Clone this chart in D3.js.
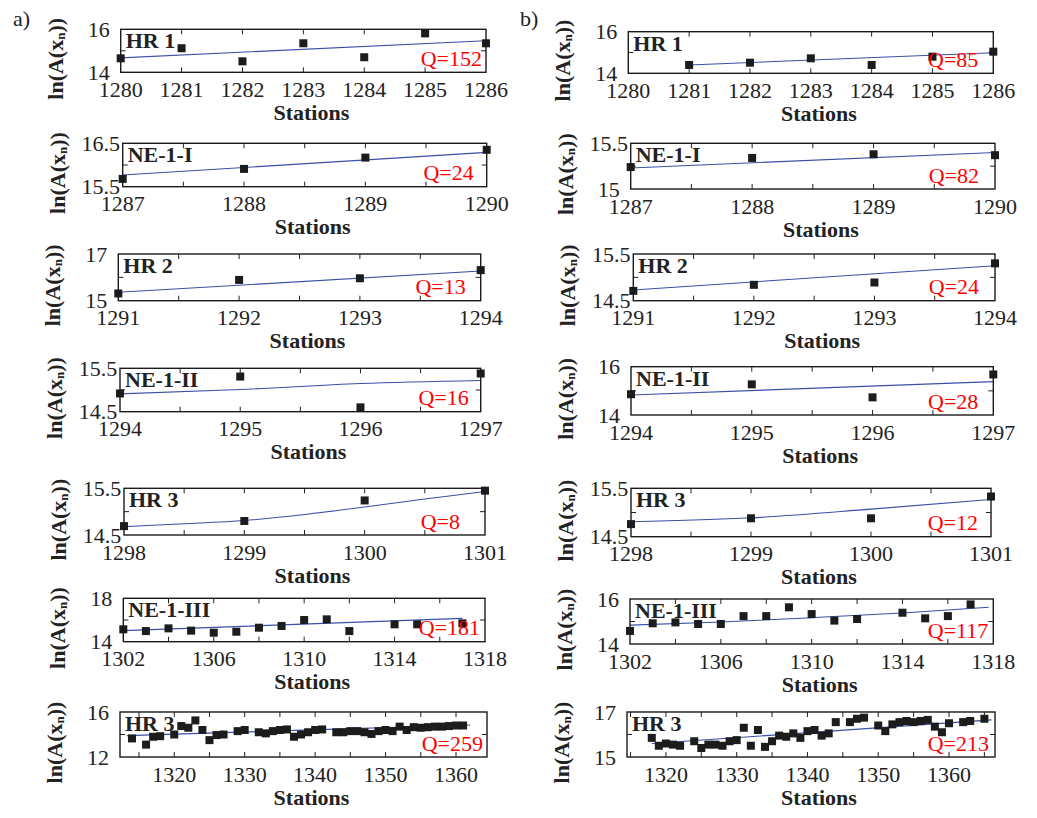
<!DOCTYPE html>
<html><head><meta charset="utf-8">
<script src="https://cdn.jsdelivr.net/npm/d3@7"></script>
<style>body{margin:0;background:#fff}svg{display:block} text{font-family:"Liberation Serif","Times New Roman",Times,"DejaVu Serif",serif;}</style>
</head><body>
<svg id="c" width="1037" height="818"></svg>
<script>
// ---------- data ----------
// column a)
const hr1aStations = [1280,1281,1282,1283,1284,1285,1286];
const hr1aValues   = [14.65,15.12,14.51,15.35,14.70,15.81,15.35];
const hr1aFitX = [1280,1286], hr1aFitY = [14.67,15.47];

const ne1aStations = [1287,1288,1289,1290];
const ne1aValues   = [15.68,15.91,16.17,16.35];
const ne1aFitX = [1287,1290], ne1aFitY = [15.77,16.29];

const hr2aStations = [1291,1292,1293,1294];
const hr2aValues   = [15.31,15.89,15.96,16.31];
const hr2aFitX = [1291,1294], hr2aFitY = [15.36,16.27];

const ne2aStations = [1294,1295,1296,1297];
const ne2aValues   = [14.92,15.31,14.60,15.38];
const ne2aFitX = [1294,1295,1296,1297], ne2aFitY = [14.91,15.01,15.15,15.22];

const hr3aStations = [1298,1299,1300,1301];
const hr3aValues   = [14.69,14.80,15.24,15.45];
const hr3aFitX = [1298,1298.5,1299,1299.5,1300,1300.5,1301], hr3aFitY = [14.68,14.74,14.81,14.94,15.10,15.27,15.43];

const ne3aStations = [1302,1303,1304,1305,1306,1307,1308,1309,1310,1311,1312,1314,1315,1317];
const ne3aValues   = [15.14,14.98,15.23,15.02,14.83,14.92,15.29,15.45,16.00,16.06,14.98,15.60,15.60,15.69];
const ne3aFitX = [1302,1317], ne3aFitY = [15.02,16.15];

const hr3bigaStations = [1314,1316,1317,1318,1320,1321,1322,1323,1324,1325,1326,1327,1329,1330,1332,1333,1334,1335,1336,1337,1338,1339,1340,1341,1343,1344,1345,1346,1347,1348,1349,1350,1351,1352,1353,1354,1355,1356,1357,1358,1359,1360,1361];
const hr3bigaValues   = [13.65,13.1,13.8,13.85,14.0,14.75,14.6,15.25,14.4,13.5,13.95,14.0,14.3,14.4,14.2,14.1,14.3,14.4,14.45,13.8,14.0,14.2,14.4,14.45,14.2,14.2,14.3,14.3,14.2,14.05,14.3,14.4,14.3,14.7,14.4,14.65,14.6,14.65,14.7,14.7,14.75,14.8,14.8];
const hr3bigaFitX = [1313.3,1362], hr3bigaFitY = [13.9,14.85];

// column b)
const hr1bStations = [1281,1282,1283,1284,1285,1286];
const hr1bValues   = [14.40,14.51,14.72,14.40,14.80,15.04];
const hr1bFitX = [1281,1286], hr1bFitY = [14.40,14.99];

const ne1bStations = [1287,1288,1289,1290];
const ne1bValues   = [15.24,15.34,15.38,15.37];
const ne1bFitX = [1287,1290], ne1bFitY = [15.23,15.40];

const hr2bStations = [1291,1292,1293,1294];
const hr2bValues   = [14.71,14.84,14.89,15.30];
const hr2bFitX = [1291,1294], hr2bFitY = [14.73,15.25];

const ne2bStations = [1294,1295,1296,1297];
const ne2bValues   = [14.86,15.27,14.73,15.68];
const ne2bFitX = [1294,1297], ne2bFitY = [14.83,15.38];

const hr3bStations = [1298,1299,1300,1301];
const hr3bValues   = [14.76,14.88,14.88,15.33];
const hr3bFitX = [1298,1299,1300,1301], hr3bFitY = [14.81,14.89,15.07,15.27];

const ne3bStations = [1302,1303,1304,1305,1306,1307,1308,1309,1310,1311,1312,1314,1315,1316,1317];
const ne3bValues   = [14.58,14.92,14.96,14.89,14.89,15.24,15.24,15.63,15.33,15.04,15.11,15.39,15.14,15.24,15.76];
const ne3bFitX = [1302,1306,1310,1314,1317.8], ne3bFitY = [14.84,14.98,15.17,15.38,15.63];

const hr3bigbStations = [1318,1319,1320,1321,1322,1324,1325,1326,1327,1328,1329,1330,1331,1332,1333,1334,1335,1336,1337,1338,1339,1340,1341,1342,1343,1344,1346,1347,1348,1350,1351,1352,1353,1354,1355,1356,1357,1358,1359,1360,1362,1363,1365];
const hr3bigbValues   = [15.85,15.5,15.6,15.55,15.5,15.7,15.4,15.55,15.55,15.5,15.7,15.75,16.3,15.5,16.2,15.45,15.7,15.95,15.9,16.05,15.85,16.15,16.2,15.95,16.05,16.55,16.55,16.7,16.75,16.4,16.15,16.45,16.55,16.6,16.55,16.6,16.65,16.35,16.1,16.5,16.55,16.6,16.7];
const hr3bigbFitX = [1318,1366], hr3bigbFitY = [15.6,16.65];

// labels
const panelNames = ["HR 1","NE-1-I","HR 2","NE-1-II","HR 3","NE-1-III","HR 3"];
const qLabelsA = ["Q=152","Q=24","Q=13","Q=16","Q=8","Q=181","Q=259"];
const qLabelsB = ["Q=85","Q=82","Q=24","Q=28","Q=12","Q=117","Q=213"];
const xTickLabels = [
  [1280,1281,1282,1283,1284,1285,1286],
  [1287,1288,1289,1290],
  [1291,1292,1293,1294],
  [1294,1295,1296,1297],
  [1298,1299,1300,1301],
  [1302,1306,1310,1314,1318],
  [1320,1330,1340,1350,1360]
];
const yTickLabelsA = [[14,16],[15.5,16.5],[15,17],[14.5,15.5],[14.5,15.5],[14,18],[12,16]];
const yTickLabelsB = [[14,16],[15,15.5],[14.5,15.5],[14,16],[14.5,15.5],[14,16],[15,17]];
const xMinorStep = [1,0.5,0.5,0.5,0.5,2,5];

// ---------- layout ----------
const boxesA = [[120.7,486,29.3,72.3],[122.7,486.7,143.3,186.7],[118.3,480.7,254,300.7],[120,480.7,368.3,411.7],[124,485,488.3,535],[123.3,485,598.3,641.7],[120,487,712,757]];
const boxesB = [[628.3,993.3,31.7,73.3],[630.7,995,143.3,189],[633.3,995,254,300.7],[631,993.3,366.7,415],[631,991,488.3,536.7],[630,993.3,599,644],[627,995,712,757]];
const qDxA = [4,13,15,12,25,5,4], qDxB = [15,16,16,15,13,5,6];
const xDomainsA = [[1280,1286],[1287,1290],[1291,1294],[1294,1297],[1298,1301],[1302,1318],[1312.3,1364.4]];
const xDomainsB = [[1280,1286],[1287,1290],[1291,1294],[1294,1297],[1298,1301],[1302,1318],[1314.5,1366.5]];

const seriesA = [
  [hr1aStations,hr1aValues,hr1aFitX,hr1aFitY],
  [ne1aStations,ne1aValues,ne1aFitX,ne1aFitY],
  [hr2aStations,hr2aValues,hr2aFitX,hr2aFitY],
  [ne2aStations,ne2aValues,ne2aFitX,ne2aFitY],
  [hr3aStations,hr3aValues,hr3aFitX,hr3aFitY],
  [ne3aStations,ne3aValues,ne3aFitX,ne3aFitY],
  [hr3bigaStations,hr3bigaValues,hr3bigaFitX,hr3bigaFitY]
];
const seriesB = [
  [hr1bStations,hr1bValues,hr1bFitX,hr1bFitY],
  [ne1bStations,ne1bValues,ne1bFitX,ne1bFitY],
  [hr2bStations,hr2bValues,hr2bFitX,hr2bFitY],
  [ne2bStations,ne2bValues,ne2bFitX,ne2bFitY],
  [hr3bStations,hr3bValues,hr3bFitX,hr3bFitY],
  [ne3bStations,ne3bValues,ne3bFitX,ne3bFitY],
  [hr3bigbStations,hr3bigbValues,hr3bigbFitX,hr3bigbFitY]
];

const svg = d3.select("#c");
svg.append("rect").attr("width",1037).attr("height",818).attr("fill","#fff");

function drawPanel(box, xDom, yDom, xLabels, yLabels, minorStep, ser, name, q, qdx) {
  const [x0,x1,y0,y1] = box;
  const x = d3.scaleLinear().domain(xDom).range([x0,x1]);
  const y = d3.scaleLinear().domain(yDom).range([y1,y0]);
  const g = svg.append("g");

  // inward ticks
  const xt = d3.range(Math.ceil(xDom[0]/minorStep)*minorStep, xDom[1]+1e-9, minorStep).filter(v=>x(v)>x0+1 && x(v)<x1-1);
  g.selectAll(".xtb").data(xt).join("line")
    .attr("x1",d=>x(d)).attr("x2",d=>x(d)).attr("y1",y1).attr("y2",y1-5)
    .attr("stroke","#222").attr("stroke-width",1);
  g.selectAll(".xtt").data(xt).join("line")
    .attr("x1",d=>x(d)).attr("x2",d=>x(d)).attr("y1",y0).attr("y2",y0+5)
    .attr("stroke","#222").attr("stroke-width",1);
  const ym = [(yDom[0]+yDom[1])/2];
  g.selectAll(".ytl").data(ym).join("line")
    .attr("x1",x0).attr("x2",x0+5).attr("y1",d=>y(d)).attr("y2",d=>y(d))
    .attr("stroke","#222").attr("stroke-width",1);
  g.selectAll(".ytr").data(ym).join("line")
    .attr("x1",x1).attr("x2",x1-5).attr("y1",d=>y(d)).attr("y2",d=>y(d))
    .attr("stroke","#222").attr("stroke-width",1);

  // fit line
  const [st, val, fx, fy] = ser;
  const line = d3.line().x(d=>x(d[0])).y(d=>y(d[1])).curve(d3.curveMonotoneX);
  g.append("path").datum(d3.zip(fx,fy)).attr("d",line)
    .attr("fill","none").attr("stroke","#3b4fa6").attr("stroke-width",1.1);

  // points
  const s = 8;
  g.selectAll(".pt").data(d3.zip(st,val)).join("rect")
    .attr("x",d=>x(d[0])-s/2).attr("y",d=>y(d[1])-s/2)
    .attr("width",s).attr("height",s).attr("fill","#1c1c1c");

  // box
  g.append("rect").attr("x",x0).attr("y",y0).attr("width",x1-x0).attr("height",y1-y0)
    .attr("fill","none").attr("stroke","#1a1a1a").attr("stroke-width",1.4);

  // tick labels
  g.selectAll(".xl").data(xLabels).join("text")
    .attr("x",d=>x(d)).attr("y",y1+17).attr("dominant-baseline","central")
    .attr("text-anchor","middle").attr("font-size",22)
    .attr("fill","#222").text(d=>d);
  g.selectAll(".yl").data(yLabels).join("text")
    .attr("x",x0-22).attr("y",d=>y(d)).attr("dominant-baseline","central")
    .attr("text-anchor","middle").attr("font-size",22)
    .attr("fill","#222").text(d=>d);

  // axis titles
  g.append("text").attr("x",(x0+x1)/2+8).attr("y",y1+40).attr("dominant-baseline","central")
    .attr("text-anchor","middle").attr("font-weight","bold")
    .attr("font-size",22).attr("fill","#222").text("Stations");
  const yt = g.append("text")
    .attr("transform",`translate(${x0-66},${(y0+y1)/2+8}) rotate(-90)`)
    .attr("text-anchor","middle").attr("dominant-baseline","central")
    .attr("font-weight","bold").attr("font-size",22).attr("fill","#222");
  yt.append("tspan").text("ln(A(x");
  yt.append("tspan").attr("font-size",13).attr("dy",5).text("n");
  yt.append("tspan").attr("dy",-5).text("))");

  // panel name & Q
  g.append("text").attr("x",x0+5).attr("y",y0+19)
    .attr("font-weight","bold").attr("font-size",22).attr("fill","#222").text(name);
  g.append("text").attr("x",x1-qdx).attr("y",y1-6.5).attr("text-anchor","end")
    .attr("font-size",22).attr("fill","#ff0000").text(q);
}

for (let i=0;i<7;i++){
  drawPanel(boxesA[i], xDomainsA[i], [yTickLabelsA[i][0], yTickLabelsA[i][1]], xTickLabels[i], yTickLabelsA[i], xMinorStep[i], seriesA[i], panelNames[i], qLabelsA[i], qDxA[i]);
  drawPanel(boxesB[i], xDomainsB[i], [yTickLabelsB[i][0], yTickLabelsB[i][1]], xTickLabels[i], yTickLabelsB[i], xMinorStep[i], seriesB[i], panelNames[i], qLabelsB[i], qDxB[i]);
}

svg.append("text").attr("x",13).attr("y",26).attr("font-size",22).attr("fill","#222").text("a)");
svg.append("text").attr("x",520).attr("y",26).attr("font-size",22).attr("fill","#222").text("b)");
</script>
</body></html>
